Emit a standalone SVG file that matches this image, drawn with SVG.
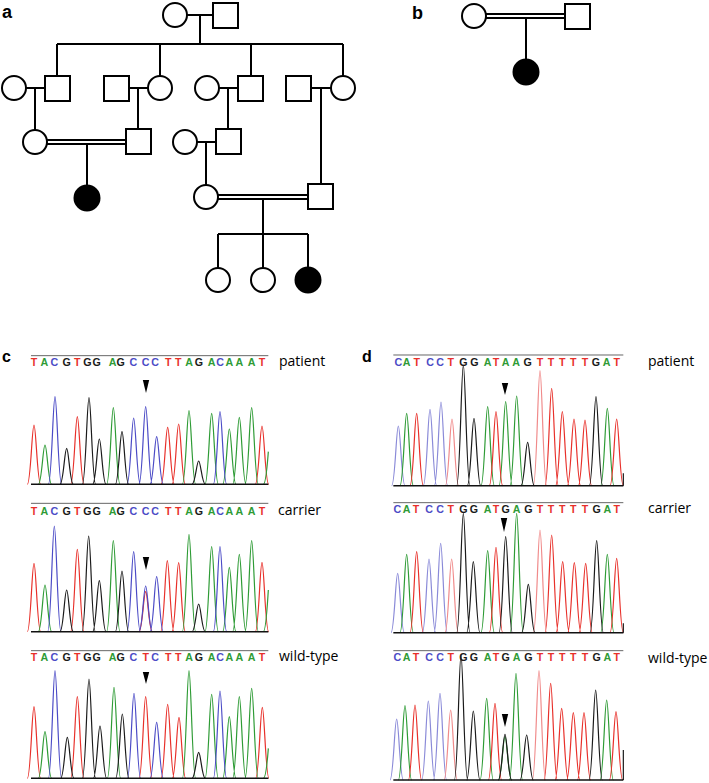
<svg xmlns="http://www.w3.org/2000/svg" width="709" height="783" viewBox="0 0 709 783">
<style>
.ln{stroke:#000;stroke-width:2;fill:none}
.nd{stroke:#000;stroke-width:2;fill:#fff}
.af{fill:#000;stroke:#000;stroke-width:2}
.pl{font-family:"Liberation Sans",Arial,sans-serif;font-weight:bold;fill:#000}
.lab{font-family:"Open Sans","Liberation Sans",sans-serif;font-size:14px;fill:#000}
.seq{font-family:"Liberation Sans",Arial,sans-serif;font-weight:bold;font-size:32px;text-anchor:middle}
.T{fill:#e8302a}.A{fill:#2e9b35}.C{fill:#4b4bc6}.G{fill:#1a1a1a}
.tr{fill:none;stroke-width:3.6;stroke-linejoin:round}
.r{stroke:#e8302a}.g{stroke:#2e9b35}.b{stroke:#4b4bc6}.k{stroke:#1a1a1a}.p{stroke:#f08a8a}.lb{stroke:#8a8ad8}
.top{stroke:#666;stroke-width:3}
.base{stroke:#111;stroke-width:4.5}
.arr{fill:#000}
</style>

<!-- panel labels -->
<text class="pl" x="2" y="18" font-size="18">a</text>
<text class="pl" x="412" y="19" font-size="18">b</text>
<text class="pl" x="2" y="362" font-size="16">c</text>
<text class="pl" x="362" y="362" font-size="16">d</text>

<!-- pedigree connectors -->
<g id="connectors">
  <path class="ln" d="M187 15H213M200 15V44M57 44H343M57 44V76M160 44V76M251 44V76M343 44V76"/>
  <path class="ln" d="M26 88H45M35 88V130M129 88H148M138 88V129M219 88H238M228 88V129M311 88H331M321 88V184"/>
  <path class="ln" d="M47 140H126M47 144H126M87 144V185"/>
  <path class="ln" d="M197 142H216M206 142V185"/>
  <path class="ln" d="M218 195H308M218 199H308M263 199V234M218 234H308M218 234V268M263 234V268M308 234V268"/>
  <path class="ln" d="M486 14H565M486 18H565M526 18V59"/>
</g>

<!-- pedigree a nodes -->
<g id="a-I1"><circle class="nd" cx="175" cy="15" r="12"/></g>
<g id="a-I2"><rect class="nd" x="213" y="3" width="25" height="25"/></g>
<g id="a-II1"><circle class="nd" cx="14" cy="88" r="12"/></g>
<g id="a-II2"><rect class="nd" x="45" y="76" width="25" height="25"/></g>
<g id="a-II3"><rect class="nd" x="104" y="76" width="25" height="25"/></g>
<g id="a-II4"><circle class="nd" cx="160" cy="88" r="12"/></g>
<g id="a-II5"><circle class="nd" cx="207" cy="88" r="12"/></g>
<g id="a-II6"><rect class="nd" x="238" y="76" width="25" height="25"/></g>
<g id="a-II7"><rect class="nd" x="286" y="76" width="25" height="25"/></g>
<g id="a-II8"><circle class="nd" cx="343" cy="88" r="12"/></g>
<g id="a-III1"><circle class="nd" cx="35" cy="142" r="12"/></g>
<g id="a-III2"><rect class="nd" x="126" y="129" width="25" height="25"/></g>
<g id="a-III3"><circle class="nd" cx="185" cy="142" r="12"/></g>
<g id="a-III4"><rect class="nd" x="216" y="129" width="25" height="25"/></g>
<g id="a-IV1"><circle class="af" cx="87" cy="198" r="12.5"/></g>
<g id="a-IV2"><circle class="nd" cx="206" cy="197" r="12"/></g>
<g id="a-IV3"><rect class="nd" x="308" y="184" width="25" height="25"/></g>
<g id="a-V1"><circle class="nd" cx="218" cy="280" r="12"/></g>
<g id="a-V2"><circle class="nd" cx="263" cy="280" r="12"/></g>
<g id="a-V3"><circle class="af" cx="308" cy="280" r="12.5"/></g>

<!-- pedigree b nodes -->
<g id="b-I1"><circle class="nd" cx="474" cy="16" r="12"/></g>
<g id="b-I2"><rect class="nd" x="565" y="4" width="25" height="25"/></g>
<g id="b-II1"><circle class="af" cx="526" cy="72" r="12.5"/></g>

<!-- chromatogram c patient -->
<g id="c-patient" transform="translate(0,340) scale(0.33333)">
  <line class="top" x1="93" y1="47" x2="805" y2="47"/>
  <text class="seq" y="78"><tspan class="T" x="102">T</tspan><tspan class="A" x="133">A</tspan><tspan class="C" x="163">C</tspan><tspan class="G" x="200">G</tspan><tspan class="T" x="232">T</tspan><tspan class="G" x="262">G</tspan><tspan class="G" x="290">G</tspan><tspan class="A" x="338">A</tspan><tspan class="G" x="362">G</tspan><tspan class="C" x="400">C</tspan><tspan class="C" x="437">C</tspan><tspan class="C" x="465">C</tspan><tspan class="T" x="505">T</tspan><tspan class="T" x="535">T</tspan><tspan class="A" x="567">A</tspan><tspan class="G" x="597">G</tspan><tspan class="A" x="635">A</tspan><tspan class="C" x="660">C</tspan><tspan class="A" x="688">A</tspan><tspan class="A" x="718">A</tspan><tspan class="A" x="755">A</tspan><tspan class="T" x="786">T</tspan></text>
  <path class="tr r" d="M102 433m-20 0c10 0 14-178 20-178s10 178 20 178M232 433m-20 0c10 0 14-203 20-203s10 203 20 203M503 433m-20 0c10 0 14-171 20-171s10 171 20 171M536 433m-20 0c10 0 14-181 20-181s10 181 20 181M786 433m-20 0c10 0 14-175 20-175s10 175 20 175"/>
  <path class="tr g" d="M135 433m-20 0c10 0 14-118 20-118s10 118 20 118M340 433m-20 0c10 0 14-230 20-230s10 230 20 230M567 433m-20 0c10 0 14-221 20-221s10 221 20 221M635 433m-20 0c10 0 14-213 20-213s10 213 20 213M688 433m-20 0c10 0 14-166 20-166s10 166 20 166M718 433m-20 0c10 0 14-201 20-201s10 201 20 201M755 433m-20 0c10 0 14-230 20-230s10 230 20 230M790 433c8 0 12-60 15-98"/>
  <path class="tr b" d="M165 433m-20 0c10 0 14-263 20-263s10 263 20 263M401 433m-20 0c10 0 14-199 20-199s10 199 20 199M437 433m-20 0c10 0 14-233 20-233s10 233 20 233M470 433m-20 0c10 0 14-143 20-143s10 143 20 143M660 433m-20 0c10 0 14-218 20-218s10 218 20 218"/>
  <path class="tr k" d="M200 433m-20 0c10 0 14-108 20-108s10 108 20 108M267 433m-20 0c10 0 14-260 20-260s10 260 20 260M298 433m-20 0c10 0 14-136 20-136s10 136 20 136M366 433m-20 0c10 0 14-158 20-158s10 158 20 158M596 433m-20 0c10 0 14-70 20-70s10 70 20 70"/>
  <line class="base" x1="93" y1="433" x2="805" y2="433"/>
</g>
<polygon class="arr" points="142.8,380 149.2,380 146,393"/>
<text class="lab" x="279" y="366">patient</text>

<!-- chromatogram c carrier -->
<g id="c-carrier" transform="translate(0,500) scale(0.33333)">
  <line class="top" x1="93" y1="10" x2="805" y2="10"/>
  <text class="seq" y="45"><tspan class="T" x="102">T</tspan><tspan class="A" x="133">A</tspan><tspan class="C" x="163">C</tspan><tspan class="G" x="200">G</tspan><tspan class="T" x="232">T</tspan><tspan class="G" x="262">G</tspan><tspan class="G" x="290">G</tspan><tspan class="A" x="338">A</tspan><tspan class="G" x="362">G</tspan><tspan class="C" x="400">C</tspan><tspan class="C" x="437">C</tspan><tspan class="C" x="465">C</tspan><tspan class="T" x="505">T</tspan><tspan class="T" x="535">T</tspan><tspan class="A" x="567">A</tspan><tspan class="G" x="597">G</tspan><tspan class="A" x="635">A</tspan><tspan class="C" x="660">C</tspan><tspan class="A" x="688">A</tspan><tspan class="A" x="718">A</tspan><tspan class="A" x="755">A</tspan><tspan class="T" x="786">T</tspan></text>
  <path class="tr r" d="M102 395m-20 0c10 0 14-205 20-205s10 205 20 205M232 395m-20 0c10 0 14-247 20-247s10 247 20 247M437 395m-20 0c10 0 14-120 20-120s10 120 20 120M502 395m-20 0c10 0 14-213 20-213s10 213 20 213M536 395m-20 0c10 0 14-207 20-207s10 207 20 207M786 395m-20 0c10 0 14-208 20-208s10 208 20 208"/>
  <path class="tr g" d="M135 395m-20 0c10 0 14-140 20-140s10 140 20 140M340 395m-20 0c10 0 14-273 20-273s10 273 20 273M567 395m-20 0c10 0 14-292 20-292s10 292 20 292M635 395m-20 0c10 0 14-255 20-255s10 255 20 255M688 395m-20 0c10 0 14-193 20-193s10 193 20 193M718 395m-20 0c10 0 14-232 20-232s10 232 20 232M755 395m-20 0c10 0 14-273 20-273s10 273 20 273M790 395c8 0 12-80 15-125"/>
  <path class="tr b" d="M163 395m-20 0c10 0 14-317 20-317s10 317 20 317M401 395m-20 0c10 0 14-240 20-240s10 240 20 240M437 395m-20 0c10 0 14-137 20-137s10 137 20 137M470 395m-20 0c10 0 14-165 20-165s10 165 20 165M660 395m-20 0c10 0 14-255 20-255s10 255 20 255"/>
  <path class="tr k" d="M200 395m-20 0c10 0 14-125 20-125s10 125 20 125M266 395m-20 0c10 0 14-287 20-287s10 287 20 287M298 395m-20 0c10 0 14-153 20-153s10 153 20 153M366 395m-20 0c10 0 14-182 20-182s10 182 20 182M596 395m-20 0c10 0 14-83 20-83s10 83 20 83"/>
  <line class="base" x1="93" y1="395" x2="805" y2="395"/>
</g>
<polygon class="arr" points="142.8,557 149.2,557 146,570"/>
<text class="lab" x="278" y="515">carrier</text>

<!-- chromatogram c wild-type -->
<g id="c-wildtype" transform="translate(0,640) scale(0.33333)">
  <line class="top" x1="93" y1="32" x2="805" y2="32"/>
  <text class="seq" y="62"><tspan class="T" x="102">T</tspan><tspan class="A" x="133">A</tspan><tspan class="C" x="163">C</tspan><tspan class="G" x="200">G</tspan><tspan class="T" x="232">T</tspan><tspan class="G" x="262">G</tspan><tspan class="G" x="290">G</tspan><tspan class="A" x="338">A</tspan><tspan class="G" x="362">G</tspan><tspan class="C" x="400">C</tspan><tspan class="T" x="437">T</tspan><tspan class="C" x="465">C</tspan><tspan class="T" x="505">T</tspan><tspan class="T" x="535">T</tspan><tspan class="A" x="567">A</tspan><tspan class="G" x="597">G</tspan><tspan class="A" x="635">A</tspan><tspan class="C" x="660">C</tspan><tspan class="A" x="688">A</tspan><tspan class="A" x="718">A</tspan><tspan class="A" x="755">A</tspan><tspan class="T" x="786">T</tspan></text>
  <path class="tr r" d="M102 415m-20 0c10 0 14-215 20-215s10 215 20 215M232 415m-20 0c10 0 14-245 20-245s10 245 20 245M437 415m-20 0c10 0 14-245 20-245s10 245 20 245M503 415m-20 0c10 0 14-222 20-222s10 222 20 222M537 415m-20 0c10 0 14-183 20-183s10 183 20 183M787 415m-20 0c10 0 14-213 20-213s10 213 20 213"/>
  <path class="tr g" d="M135 415m-20 0c10 0 14-140 20-140s10 140 20 140M342 415m-20 0c10 0 14-273 20-273s10 273 20 273M567 415m-20 0c10 0 14-323 20-323s10 323 20 323M635 415m-20 0c10 0 14-252 20-252s10 252 20 252M688 415m-20 0c10 0 14-185 20-185s10 185 20 185M718 415m-20 0c10 0 14-245 20-245s10 245 20 245M755 415m-20 0c10 0 14-270 20-270s10 270 20 270M790 415c8 0 12-50 15-90"/>
  <path class="tr b" d="M165 415m-20 0c10 0 14-323 20-323s10 323 20 323M402 415m-20 0c10 0 14-255 20-255s10 255 20 255M470 415m-20 0c10 0 14-168 20-168s10 168 20 168M660 415m-20 0c10 0 14-262 20-262s10 262 20 262"/>
  <path class="tr k" d="M202 415m-20 0c10 0 14-123 20-123s10 123 20 123M267 415m-20 0c10 0 14-298 20-298s10 298 20 298M300 415m-20 0c10 0 14-157 20-157s10 157 20 157M367 415m-20 0c10 0 14-193 20-193s10 193 20 193M596 415m-20 0c10 0 14-78 20-78s10 78 20 78"/>
  <line class="base" x1="93" y1="415" x2="805" y2="415"/>
</g>
<polygon class="arr" points="142.8,672 149.2,672 146,684"/>
<text class="lab" x="279" y="661">wild-type</text>

<!-- chromatogram d patient -->
<g id="d-patient" transform="translate(360,340) scale(0.33333)">
  <line class="top" x1="100" y1="45" x2="790" y2="45"/>
  <text class="seq" y="77"><tspan class="C" x="115">C</tspan><tspan class="A" x="140">A</tspan><tspan class="T" x="170">T</tspan><tspan class="C" x="210">C</tspan><tspan class="C" x="240">C</tspan><tspan class="T" x="272">T</tspan><tspan class="G" x="310">G</tspan><tspan class="G" x="343">G</tspan><tspan class="A" x="383">A</tspan><tspan class="T" x="408">T</tspan><tspan class="A" x="437">A</tspan><tspan class="A" x="468">A</tspan><tspan class="G" x="503">G</tspan><tspan class="T" x="540">T</tspan><tspan class="T" x="573">T</tspan><tspan class="T" x="607">T</tspan><tspan class="T" x="640">T</tspan><tspan class="T" x="675">T</tspan><tspan class="G" x="708">G</tspan><tspan class="A" x="740">A</tspan><tspan class="T" x="770">T</tspan></text>
  <path class="tr lb" d="M115 437m-20 0c10 0 14-179 20-179s10 179 20 179M210 437m-20 0c10 0 14-229 20-229s10 229 20 229M243 437m-20 0c10 0 14-251 20-251s10 251 20 251"/>
  <path class="tr g" d="M140 437m-20 0c10 0 14-217 20-217s10 217 20 217M383 437m-20 0c10 0 14-237 20-237s10 237 20 237M437 437m-20 0c10 0 14-252 20-252s10 252 20 252M470 437m-20 0c10 0 14-269 20-269s10 269 20 269M742 437m-20 0c10 0 14-232 20-232s10 232 20 232"/>
  <path class="tr r" d="M170 437m-20 0c10 0 14-217 20-217s10 217 20 217M408 437m-20 0c10 0 14-222 20-222s10 222 20 222M575 437m-20 0c10 0 14-292 20-292s10 292 20 292M607 437m-20 0c10 0 14-222 20-222s10 222 20 222M642 437m-20 0c10 0 14-200 20-200s10 200 20 200M675 437m-20 0c10 0 14-197 20-197s10 197 20 197M770 437m-20 0c10 0 14-200 20-200s10 200 20 200"/>
  <path class="tr p" d="M276 437m-20 0c10 0 14-200 20-200s10 200 20 200M540 437m-20 0c10 0 14-345 20-345s10 345 20 345"/>
  <path class="tr k" d="M310 437m-20 0c10 0 14-362 20-362s10 362 20 362M342 437m-20 0c10 0 14-202 20-202s10 202 20 202M503 437m-20 0c10 0 14-130 20-130s10 130 20 130M708 437m-20 0c10 0 14-267 20-267s10 267 20 267M790 437V400"/>
  <line class="base" x1="100" y1="437" x2="790" y2="437"/>
</g>
<polygon class="arr" points="501.8,383 508.2,383 505,395"/>
<text class="lab" x="648" y="366">patient</text>

<!-- chromatogram d carrier -->
<g id="d-carrier" transform="translate(360,500) scale(0.33333)">
  <line class="top" x1="100" y1="8" x2="790" y2="8"/>
  <text class="seq" y="40"><tspan class="C" x="112">C</tspan><tspan class="A" x="140">A</tspan><tspan class="T" x="168">T</tspan><tspan class="C" x="207">C</tspan><tspan class="C" x="240">C</tspan><tspan class="T" x="272">T</tspan><tspan class="G" x="310">G</tspan><tspan class="G" x="342">G</tspan><tspan class="A" x="383">A</tspan><tspan class="T" x="408">T</tspan><tspan class="G" x="437">G</tspan><tspan class="A" x="470">A</tspan><tspan class="G" x="505">G</tspan><tspan class="T" x="540">T</tspan><tspan class="T" x="573">T</tspan><tspan class="T" x="607">T</tspan><tspan class="T" x="640">T</tspan><tspan class="T" x="675">T</tspan><tspan class="G" x="710">G</tspan><tspan class="A" x="742">A</tspan><tspan class="T" x="770">T</tspan></text>
  <path class="tr lb" d="M113 398m-20 0c10 0 14-178 20-178s10 178 20 178M207 398m-20 0c10 0 14-221 20-221s10 221 20 221M242 398m-20 0c10 0 14-268 20-268s10 268 20 268"/>
  <path class="tr g" d="M140 398m-20 0c10 0 14-235 20-235s10 235 20 235M383 398m-20 0c10 0 14-246 20-246s10 246 20 246M470 398m-20 0c10 0 14-358 20-358s10 358 20 358M742 398m-20 0c10 0 14-235 20-235s10 235 20 235"/>
  <path class="tr r" d="M170 398m-20 0c10 0 14-243 20-243s10 243 20 243M408 398m-20 0c10 0 14-256 20-256s10 256 20 256M575 398m-20 0c10 0 14-293 20-293s10 293 20 293M608 398m-20 0c10 0 14-213 20-213s10 213 20 213M643 398m-20 0c10 0 14-210 20-210s10 210 20 210M677 398m-20 0c10 0 14-208 20-208s10 208 20 208M770 398m-20 0c10 0 14-223 20-223s10 223 20 223"/>
  <path class="tr p" d="M275 398m-20 0c10 0 14-221 20-221s10 221 20 221M540 398m-20 0c10 0 14-308 20-308s10 308 20 308"/>
  <path class="tr k" d="M310 398m-20 0c10 0 14-358 20-358s10 358 20 358M340 398m-20 0c10 0 14-213 20-213s10 213 20 213M437 398m-20 0c10 0 14-288 20-288s10 288 20 288M505 398m-20 0c10 0 14-145 20-145s10 145 20 145M710 398m-20 0c10 0 14-276 20-276s10 276 20 276M790 398V370"/>
  <line class="base" x1="100" y1="398" x2="790" y2="398"/>
</g>
<polygon class="arr" points="500.8,518 507.2,518 504,532"/>
<text class="lab" x="648" y="513">carrier</text>

<!-- chromatogram d wild-type -->
<g id="d-wildtype" transform="translate(360,640) scale(0.33333)">
  <line class="top" x1="100" y1="32" x2="790" y2="32"/>
  <text class="seq" y="62"><tspan class="C" x="112">C</tspan><tspan class="A" x="140">A</tspan><tspan class="T" x="168">T</tspan><tspan class="C" x="207">C</tspan><tspan class="C" x="240">C</tspan><tspan class="T" x="272">T</tspan><tspan class="G" x="310">G</tspan><tspan class="G" x="342">G</tspan><tspan class="A" x="383">A</tspan><tspan class="T" x="408">T</tspan><tspan class="G" x="437">G</tspan><tspan class="A" x="470">A</tspan><tspan class="G" x="505">G</tspan><tspan class="T" x="540">T</tspan><tspan class="T" x="573">T</tspan><tspan class="T" x="607">T</tspan><tspan class="T" x="640">T</tspan><tspan class="T" x="675">T</tspan><tspan class="G" x="710">G</tspan><tspan class="A" x="742">A</tspan><tspan class="T" x="770">T</tspan></text>
  <path class="tr lb" d="M110 420m-20 0c10 0 14-183 20-183s10 183 20 183M205 420m-20 0c10 0 14-237 20-237s10 237 20 237M240 420m-20 0c10 0 14-260 20-260s10 260 20 260"/>
  <path class="tr g" d="M135 420m-20 0c10 0 14-223 20-223s10 223 20 223M380 420m-20 0c10 0 14-245 20-245s10 245 20 245M435 420m-20 0c10 0 14-130 20-130s10 130 20 130M468 420m-20 0c10 0 14-320 20-320s10 320 20 320M740 420m-20 0c10 0 14-240 20-240s10 240 20 240"/>
  <path class="tr r" d="M165 420m-20 0c10 0 14-225 20-225s10 225 20 225M405 420m-20 0c10 0 14-230 20-230s10 230 20 230M572 420m-20 0c10 0 14-290 20-290s10 290 20 290M605 420m-20 0c10 0 14-215 20-215s10 215 20 215M640 420m-20 0c10 0 14-202 20-202s10 202 20 202M672 420m-20 0c10 0 14-202 20-202s10 202 20 202M768 420m-20 0c10 0 14-205 20-205s10 205 20 205"/>
  <path class="tr p" d="M272 420m-20 0c10 0 14-210 20-210s10 210 20 210M537 420m-20 0c10 0 14-328 20-328s10 328 20 328"/>
  <path class="tr k" d="M303 420m-20 0c10 0 14-375 20-375s10 375 20 375M340 420m-20 0c10 0 14-207 20-207s10 207 20 207M435 420m-20 0c10 0 14-137 20-137s10 137 20 137M500 420m-20 0c10 0 14-135 20-135s10 135 20 135M707 420m-20 0c10 0 14-270 20-270s10 270 20 270M790 420V330"/>
  <line class="base" x1="100" y1="420" x2="790" y2="420"/>
</g>
<polygon class="arr" points="501.8,714 508.2,714 505,727"/>
<text class="lab" x="648" y="663">wild-type</text>
</svg>
